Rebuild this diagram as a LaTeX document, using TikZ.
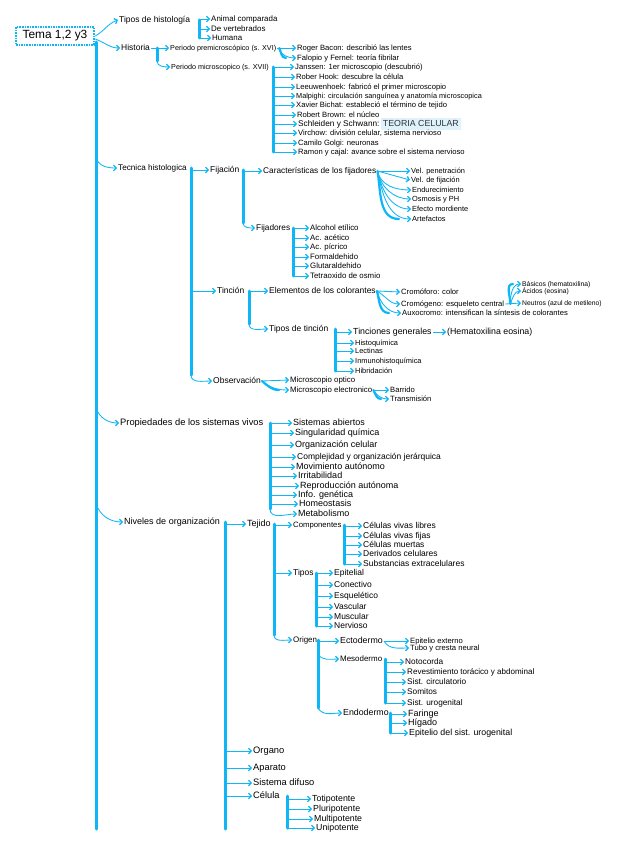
\documentclass[tikz,border=0pt]{standalone}
\usepackage{fontspec}
\setmainfont{Liberation Sans}
\usetikzlibrary{arrows.meta,calc}
\definecolor{cy}{RGB}{15,182,245}
\definecolor{hl}{RGB}{222,242,252}
\newcommand{\fz}[1]{\fontsize{\the\dimexpr #1pt*106/100\relax}{\the\dimexpr #1pt*106/100\relax}\selectfont}
\tikzset{
  lab/.style={anchor=west, inner sep=1pt, text height=0.72em, text depth=0.2em, font={\fz{#1}}},
  lab/.default=7.2,
  bar/.style={draw=cy, line width=3pt, line cap=round},
  thk/.style={draw=cy, line width=2.2pt, line cap=round},
  arr/.style={draw=cy, line width=0.85pt, -{Straight Barb[length=2.6pt,width=5.6pt,line width=1.3pt]}},
}
\begin{document}
\begin{tikzpicture}[x=1pt,y=-1pt]
\useasboundingbox (0,0) rectangle (629,848);
\fill[white] (0,0) rectangle (629,848);

% root
\node[draw=cy, line width=2.6pt, dash pattern=on 1.6pt off 1pt, minimum width=78pt, minimum height=18pt, inner sep=0pt, font=\fz{11.2}] (root) at (55,36) {Tema 1,2 y3};
\coordinate (tkA) at (96,42);
\coordinate (tkB) at (96,829);
\draw[bar] (tkA) -- (tkB);

% level 1
\node[lab=8] (tip) at (118,20) {Tipos de histología};
\node[lab=8] (his) at (120,48) {Historia};
\node[lab=7.7] (tec) at (117,168) {Tecnica histologica};
\node[lab=8.8] (pro) at (119,423) {Propiedades de los sistemas vivos};
\node[lab=8.5] (niv) at (123,522) {Niveles de organización};
\draw[arr] (root.east) to[out=30,in=200] (tip.west);
\draw[arr] ([yshift=-3pt]root.east) to[out=-20,in=180] (his.west);
\draw[arr] ($(tec.west -| tkA)+(0,-10)$) to[out=-70,in=180] (tec.west);
\draw[arr] ($(pro.west -| tkA)+(0,-15)$) to[out=-70,in=180] (pro.west);
\draw[arr] ($(niv.west -| tkA)+(0,-18)$) to[out=-70,in=180] (niv.west);

% Tipos de histologia
\node[lab=7.5] (ani) at (210,19) {Animal comparada};
\node[lab=7.5] (ver) at (210,29) {De vertebrados};
\node[lab=7.5] (hum) at (211,38) {Humana};
\coordinate (b1) at (199,0);
\draw[bar] (tip.east -| b1) -- (hum.west -| b1);
\foreach \n in {ani,ver,hum} \draw[arr] (\n.west -| b1) -- (\n.west);

% Historia
\node[lab=6.8] (pre) at (169,48) {Periodo premicroscópico (s. XVI)};
\node[lab=6.8] (mic) at (170,67) {Periodo microscopico (s. XVII)};
\coordinate (b2) at (157,0);
\draw[arr] (his.east) -- (pre.west);
\draw[bar] (his.east -| b2) -- ($(mic.west -| b2)+(0,-6)$);
\draw[arr] ($(mic.west -| b2)+(0,-6)$) to[out=-90,in=180] (mic.west);

\node[lab=7.2] (h1) at (296,48) {Roger Bacon: describió las lentes};
\node[lab=7.2] (h2) at (296,58) {Falopio y Fernel: teoría fibrilar};
\node[lab=7.2] (h3) at (294,67) {Janssen: 1er microscopio (descubrió)};
\node[lab=7.2] (h4) at (295,77) {Rober Hook: descubre la célula};
\node[lab=7.2] (h5) at (295,87) {Leeuwenhoek: fabricó el primer microscopio};
\node[lab=6.9] (h6) at (295,96) {Malpighi: circulación sanguínea y anatomía microscopica};
\node[lab=7.2] (h7) at (295,105) {Xavier Bichat: estableció el término de tejido};
\node[lab=7.2] (h8) at (296,115) {Robert Brown: el núcleo};
\node[lab=7.8] (h9) at (297,124) {Schleiden y Schwann:};
\node[lab=8.3, fill=hl, inner xsep=2pt, text=black!80] (tcel) at (h9.east) {TEORIA CELULAR};
\node[lab=7.2] (h10) at (297,133) {Virchow: división celular, sistema nervioso};
\node[lab=7.2] (h11) at (297,143) {Camilo Golgi: neuronas};
\node[lab=7.2] (h12) at (297,152) {Ramon y cajal: avance sobre el sistema nervioso};
\draw[arr] (pre.east) -- (h1.west);
\draw[thk] ([xshift=2pt]pre.east) to[out=-70,in=180] ($(h2.west)+(-10,0)$);
\draw[arr] ([xshift=1pt]pre.east) to[out=-70,in=180] (h2.west);
\coordinate (b3) at (273,0);
\draw[bar] (mic.east -| b3) -- (h12.west -| b3);
\foreach \n in {h3,h4,h5,h6,h7,h8,h9,h10,h11,h12} \draw[arr] (\n.west -| b3) -- (\n.west);

% Tecnica histologica
\node[lab=8] (fij) at (209,170) {Fijación};
\node[lab=8] (tin) at (216,291) {Tinción};
\node[lab=8] (obs) at (212,381) {Observación};
\coordinate (b4) at (191,0);
\draw[bar] (tec.east -| b4) -- ($(obs.west -| b4)+(0,-6)$);
\draw[arr] (fij.west -| b4) -- (fij.west);
\draw[arr] (tin.west -| b4) -- (tin.west);
\draw[arr] ($(obs.west -| b4)+(0,-6)$) to[out=-90,in=180] (obs.west);

% Fijacion
\node[lab=7.8] (car) at (262,171) {Características de los fijadores};
\node[lab=7.8] (fjd) at (255,228) {Fijadores};
\coordinate (b5) at (243,0);
\draw[bar] (fij.east -| b5) -- ($(fjd.west -| b5)+(0,-5)$);
\draw[arr] (car.west -| b5) -- (car.west);
\draw[arr] ($(fjd.west -| b5)+(0,-5)$) to[out=-90,in=180] (fjd.west);

\node[lab=7] (c1) at (410,171) {Vel. penetración};
\node[lab=7] (c2) at (410,180) {Vel. de fijación};
\node[lab=7] (c3) at (411,190) {Endurecimiento};
\node[lab=7] (c4) at (411,199) {Osmosis y PH};
\node[lab=7] (c5) at (411,209) {Efecto mordiente};
\node[lab=7] (c6) at (411,219) {Artefactos};
\draw[arr] (car.east) -- (c1.west);
\draw[arr] (car.east) -- (c2.west);
\draw[thk] (car.east) to[out=-80,in=180] ($(c6.west)+(-12,0)$);
\foreach \n in {c3,c4,c5,c6} \draw[arr] (car.east) to[out=-78,in=180] (\n.west);

\node[lab=7.4] (j1) at (309,228) {Alcohol etílico};
\node[lab=7.4] (j2) at (309,238) {Ac. acético};
\node[lab=7.4] (j3) at (309,247) {Ac. pícrico};
\node[lab=7.4] (j4) at (309,257) {Formaldehido};
\node[lab=7.4] (j5) at (309,266) {Glutaraldehido};
\node[lab=7.4] (j6) at (309,276) {Tetraoxido de osmio};
\coordinate (b6) at (293,0);
\draw[bar] (fjd.east -| b6) -- (j6.west -| b6);
\foreach \n in {j1,j2,j3,j4,j5,j6} \draw[arr] (\n.west -| b6) -- (\n.west);

% Tincion
\node[lab=8] (ele) at (268,291) {Elementos de los colorantes};
\node[lab=8] (tt) at (268,329) {Tipos de tinción};
\coordinate (b7) at (249,0);
\draw[bar] (tin.east -| b7) -- ($(tt.west -| b7)+(0,-5)$);
\draw[arr] (ele.west -| b7) -- (ele.west);
\draw[arr] ($(tt.west -| b7)+(0,-5)$) to[out=-90,in=180] (tt.west);

\node[lab=7.2] (e1) at (400,292) {Cromóforo: color};
\node[lab=7.2] (e2) at (400,304) {Cromógeno: esqueleto central};
\node[lab=7.2] (e3) at (401,313) {Auxocromo: intensifican la síntesis de colorantes};
\draw[arr] (ele.east) -- (e1.west);
\draw[arr] (ele.east) to[out=-30,in=180] (e2.west);
\draw[thk] (ele.east) to[out=-75,in=180] ($(e3.west)+(-12,0)$);
\draw[arr] (ele.east) to[out=-75,in=180] (e3.west);

\node[lab=6.4] (k1) at (521,284) {Básicos (hematoxilina)};
\node[lab=6.4] (k2) at (521,291) {Ácidos (eosina)};
\node[lab=6.4] (k3) at (521,303) {Neutros (azul de metileno)};
\draw[arr] (e2.east) -- (k3.west);
\draw[thk] ([xshift=5pt]e2.east) to[out=90,in=180] ($(k1.west)+(-8,0)$);
\draw[arr] ([xshift=5pt]e2.east) to[out=90,in=180] (k1.west);
\draw[arr] ([xshift=5pt]e2.east) to[out=70,in=180] (k2.west);

\node[lab=8.3] (g0) at (352,332) {Tinciones generales};
\node[lab=7] (g1) at (354,343) {Histoquímica};
\node[lab=7] (g2) at (354,351) {Lectinas};
\node[lab=7] (g3) at (354,361) {Inmunohistoquímica};
\node[lab=7] (g4) at (354,371) {Hibridación};
\node[lab=8.3] (he) at (446,332) {(Hematoxilina eosina)};
\coordinate (b8) at (335,0);
\draw[bar] (tt.east -| b8) -- (g4.west -| b8);
\foreach \n in {g0,g1,g2,g3,g4} \draw[arr] (\n.west -| b8) -- (\n.west);
\draw[arr] (g0.east) -- (he.west);

% Observacion
\node[lab=7.4] (o1) at (289,380) {Microscopio optico};
\node[lab=7.4] (o2) at (289,390) {Microscopio electronico};
\draw[arr] (obs.east) -- (o1.west);
\draw[thk] (obs.east) to[out=-40,in=180] ($(o2.west)+(-10,0)$);
\draw[arr] (obs.east) to[out=-40,in=180] (o2.west);
\node[lab=7.2] (r1) at (389,390) {Barrido};
\node[lab=7.2] (r2) at (389,399) {Transmisión};
\draw[arr] (o2.east) -- (r1.west);
\draw[thk] (o2.east) to[out=-60,in=180] ($(r2.west)+(-8,0)$);
\draw[arr] (o2.east) to[out=-60,in=180] (r2.west);

% Propiedades
\node[lab=8.5] (p1) at (292,423) {Sistemas abiertos};
\node[lab=8.5] (p2) at (294,433) {Singularidad química};
\node[lab=8.5] (p3) at (294,445) {Organización celular};
\node[lab=8.0] (p4) at (296,457) {Complejidad y organización jerárquica};
\node[lab=8.5] (p5) at (295,467) {Movimiento autónomo};
\node[lab=8.5] (p6) at (297,476) {Irritabilidad};
\node[lab=8.5] (p7) at (299,486) {Reproducción autónoma};
\node[lab=8.5] (p8) at (297,495) {Info. genética};
\node[lab=8.5] (p9) at (298,504) {Homeostasis};
\node[lab=8.5] (p10) at (297,514) {Metabolismo};
\coordinate (b9) at (270,0);
\draw[bar] (pro.east -| b9) -- ($(p10.west -| b9)+(0,-5)$);
\foreach \n in {p1,p2,p3,p4,p5,p6,p7,p8,p9} \draw[arr] (\n.west -| b9) -- (\n.west);
\draw[arr] ($(p10.west -| b9)+(0,-5)$) to[out=-90,in=180] (p10.west);

% Niveles de organizacion
\node[lab=8.5] (tej) at (246,524) {Tejido};
\node[lab=8.8] (org) at (252,751) {Organo};
\node[lab=8.8] (apa) at (252,768) {Aparato};
\node[lab=8.8] (sis) at (252,783) {Sistema difuso};
\node[lab=8.8] (cel) at (252,796) {Célula};
\coordinate (b10) at (225,0);
\draw[bar] (niv.east -| b10) -- (tkB -| b10);
\foreach \n in {tej,org,apa,sis,cel} \draw[arr] (\n.west -| b10) -- (\n.west);

% Tejido
\node[lab=7.3] (com) at (292,525) {Componentes};
\node[lab=8] (tp) at (292,573) {Tipos};
\node[lab=7.5] (ori) at (292,640) {Origen};
\coordinate (b11) at (274,0);
\draw[bar] (tej.east -| b11) -- ($(ori.west -| b11)+(0,-5)$);
\draw[arr] (com.west -| b11) -- (com.west);
\draw[arr] (tp.west -| b11) -- (tp.west);
\draw[arr] ($(ori.west -| b11)+(0,-5)$) to[out=-90,in=180] (ori.west);

\node[lab=8] (m1) at (362,526) {Células vivas libres};
\node[lab=8] (m2) at (362,536) {Células vivas fijas};
\node[lab=8] (m3) at (362,545) {Células muertas};
\node[lab=8] (m4) at (362,554) {Derivados celulares};
\node[lab=8] (m5) at (362,564) {Substancias extracelulares};
\coordinate (b12) at (344,0);
\draw[bar] (com.east -| b12) -- (m5.west -| b12);
\foreach \n in {m1,m2,m3,m4,m5} \draw[arr] (\n.west -| b12) -- (\n.west);

\node[lab=8] (t1) at (333,573) {Epitelial};
\node[lab=8] (t2) at (333,585) {Conectivo};
\node[lab=8] (t3) at (333,596) {Esquelético};
\node[lab=8] (t4) at (333,607) {Vascular};
\node[lab=8] (t5) at (333,617) {Muscular};
\node[lab=8] (t6) at (333,626) {Nervioso};
\coordinate (b13) at (316,0);
\draw[bar] (tp.east -| b13) -- (t6.west -| b13);
\foreach \n in {t1,t2,t3,t4,t5,t6} \draw[arr] (\n.west -| b13) -- (\n.west);

\node[lab=8.3] (ec) at (339,641) {Ectodermo};
\node[lab=7.5] (me) at (339,659) {Mesodermo};
\node[lab=8.3] (en) at (342,713) {Endodermo};
\coordinate (b14) at (318,0);
\draw[bar] (ori.east -| b14) -- ($(en.west -| b14)+(0,-5)$);
\draw[arr] (ec.west -| b14) -- (ec.west);
\draw[arr] ($(me.west -| b14)+(0,-5)$) to[out=-60,in=180] (me.west);
\draw[arr] ($(en.west -| b14)+(0,-5)$) to[out=-60,in=180] (en.west);

\node[lab=7.2] (x1) at (409,641) {Epitelio externo};
\node[lab=7.2] (x2) at (409,648) {Tubo y cresta neural};
\draw[arr] (ec.east) -- (x1.west);
\draw[arr] (ec.east) to[out=-60,in=180] (x2.west);

\node[lab=7.8] (y1) at (404,662) {Notocorda};
\node[lab=7.6] (y2) at (406,672) {Revestimiento torácico y abdominal};
\node[lab=7.8] (y3) at (406,682) {Sist. circulatorio};
\node[lab=7.8] (y4) at (406,692) {Somitos};
\node[lab=7.8] (y5) at (406,703) {Sist. urogenital};
\coordinate (b15) at (385,0);
\draw[bar] (me.east -| b15) -- (y5.west -| b15);
\foreach \n in {y1,y2,y3,y4,y5} \draw[arr] (\n.west -| b15) -- (\n.west);

\node[lab=8.5] (z1) at (407,714) {Faringe};
\node[lab=8.5] (z2) at (407,723) {Hígado};
\node[lab=8.3] (z3) at (408,733) {Epitelio del sist. urogenital};
\coordinate (b16) at (390,0);
\draw[bar] (en.east -| b16) -- (z3.west -| b16);
\foreach \n in {z1,z2,z3} \draw[arr] (\n.west -| b16) -- (\n.west);

% Celula
\node[lab=8.3] (u1) at (311,799) {Totipotente};
\node[lab=8.3] (u2) at (312,809) {Pluripotente};
\node[lab=8.3] (u3) at (313,819) {Multipotente};
\node[lab=8.3] (u4) at (315,828) {Unipotente};
\coordinate (b17) at (287,0);
\draw[bar] (cel.east -| b17) -- (u4.west -| b17);
\foreach \n in {u1,u2,u3,u4} \draw[arr] (\n.west -| b17) -- (\n.west);
\end{tikzpicture}
\end{document}
